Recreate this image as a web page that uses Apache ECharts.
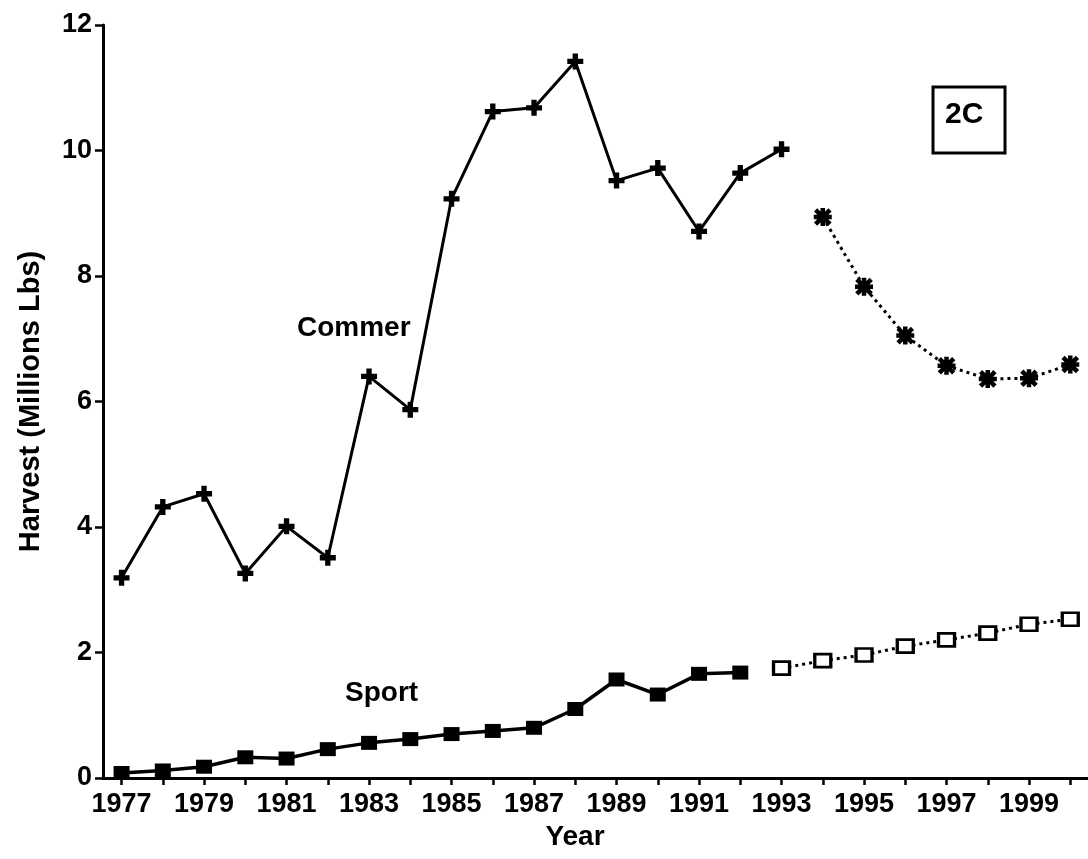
<!DOCTYPE html>
<html>
<head>
<meta charset="utf-8">
<title>Harvest 2C</title>
<script src="https://cdn.jsdelivr.net/npm/echarts@6/dist/echarts.min.js"></script>
<style>
  html, body { margin: 0; padding: 0; background: #fff; }
  #chart { width: 1088px; height: 859px; }
</style>
</head>
<body>
<div id="chart"></div>
<script>
// data
const commerYears = [1977, 1978, 1979, 1980, 1981, 1982, 1983, 1984, 1985, 1986, 1987, 1988, 1989, 1990, 1991, 1992, 1993]
const commerValues = [3.19, 4.32, 4.53, 3.26, 4.01, 3.51, 6.40, 5.87, 9.23, 10.62, 10.68, 11.42, 9.52, 9.72, 8.71, 9.64, 10.02]
const commerProjYears = [1994, 1995, 1996, 1997, 1998, 1999, 2000]
const commerProjValues = [8.94, 7.83, 7.05, 6.57, 6.36, 6.37, 6.59]

const sportYears = [1977, 1978, 1979, 1980, 1981, 1982, 1983, 1984, 1985, 1986, 1987, 1988, 1989, 1990, 1991, 1992]
const sportValues = [0.08, 0.12, 0.18, 0.33, 0.31, 0.46, 0.56, 0.62, 0.70, 0.75, 0.80, 1.10, 1.57, 1.33, 1.66, 1.68]
const sportProjYears = [1993, 1994, 1995, 1996, 1997, 1998, 1999, 2000]
const sportProjValues = [1.75, 1.87, 1.96, 2.10, 2.20, 2.31, 2.45, 2.53]

const tickYears = [1977, 1978, 1979, 1980, 1981, 1982, 1983, 1984, 1985, 1986, 1987, 1988, 1989, 1990, 1991, 1992, 1993, 1994, 1995, 1996, 1997, 1998, 1999, 2000]
const labelYears = [1977, 1979, 1981, 1983, 1985, 1987, 1989, 1991, 1993, 1995, 1997, 1999]

const FONT = 'Liberation Sans, Arial, sans-serif'
const INK = '#000'

// marker shapes (all subpaths wound the same way so overlaps stay filled)
const plusPath = 'path://M6,0 L12,0 L12,6 L18,6 L18,12 L12,12 L12,18 L6,18 L6,12 L0,12 L0,6 L6,6 Z'
const starPath = 'path://M7.5,0 L12.5,0 L12.5,20 L7.5,20 Z M0,7.5 L20,7.5 L20,12.5 L0,12.5 Z ' +
  'M3.8,0.2 L19.8,16.2 L16.2,19.8 L0.2,3.8 Z M16.2,0.2 L19.8,3.8 L3.8,19.8 L0.2,16.2 Z'

function pairs (xs, ys) {
  return xs.map((x, i) => [x, ys[i]])
}

const chart = echarts.init(document.getElementById('chart'), null, { renderer: 'canvas' })

const option = {
  backgroundColor: '#fff',
  animation: false,
  grid: {
    left: 103,
    right: 0,
    top: 25,
    bottom: 81
  },
  xAxis: [{
    type: 'value',
    min: 1976.55,
    max: 2000.43,
    name: 'Year',
    nameLocation: 'middle',
    nameGap: 40,
    nameTextStyle: {
      color: INK,
      fontFamily: FONT,
      fontSize: 28,
      fontWeight: 'bold',
      padding: [0, 41, 0, 0]
    },
    axisLine: { show: true, onZero: false, lineStyle: { color: INK, width: 3 } },
    axisTick: {
      show: true,
      inside: false,
      length: 7,
      customValues: tickYears,
      lineStyle: { color: INK, width: 2.5 }
    },
    axisLabel: {
      show: true,
      customValues: labelYears,
      margin: 13,
      color: INK,
      fontFamily: FONT,
      fontSize: 27,
      fontWeight: 'bold',
      formatter: v => String(v)
    },
    splitLine: { show: false }
  }, {
    // top frame line
    type: 'value',
    position: 'top',
    min: 1976.55,
    max: 2000.43,
    axisLine: { show: true, lineStyle: { color: INK, width: 3 } },
    axisTick: { show: false },
    axisLabel: { show: false },
    splitLine: { show: false }
  }],
  yAxis: {
    type: 'value',
    min: 0,
    max: 12,
    interval: 2,
    name: 'Harvest (Millions Lbs)',
    nameLocation: 'middle',
    nameGap: 58,
    nameTextStyle: {
      color: INK,
      fontFamily: FONT,
      fontSize: 29,
      fontWeight: 'bold'
    },
    axisLine: { show: true, lineStyle: { color: INK, width: 3 } },
    axisTick: { show: true, inside: false, length: 8, lineStyle: { color: INK, width: 2.5 } },
    axisLabel: {
      margin: 11,
      color: INK,
      fontFamily: FONT,
      fontSize: 27,
      fontWeight: 'bold'
    },
    splitLine: { show: false }
  },
  series: [
    {
      name: 'Commer',
      type: 'line',
      data: pairs(commerYears, commerValues),
      symbol: plusPath,
      symbolSize: 16,
      itemStyle: { color: INK },
      lineStyle: { color: INK, width: 3 },
      z: 3
    },
    {
      name: 'Commer (proj)',
      type: 'line',
      data: pairs(commerProjYears, commerProjValues),
      symbol: starPath,
      symbolSize: 18,
      itemStyle: { color: INK },
      lineStyle: { color: INK, width: 3, type: [3, 4] },
      z: 3
    },
    {
      name: 'Sport',
      type: 'line',
      data: pairs(sportYears, sportValues),
      symbol: 'rect',
      symbolSize: [16, 14],
      itemStyle: { color: INK },
      lineStyle: { color: INK, width: 3.5 },
      z: 3
    },
    {
      name: 'Sport (proj)',
      type: 'line',
      data: pairs(sportProjYears, sportProjValues),
      symbol: 'rect',
      symbolSize: [16, 13],
      itemStyle: { color: '#fff', borderColor: INK, borderWidth: 3 },
      lineStyle: { color: INK, width: 3, type: [3, 4] },
      z: 3
    }
  ],
  graphic: [
    {
      type: 'text',
      left: 297,
      top: 314,
      style: { text: 'Commer', fill: INK, font: 'bold 28px ' + FONT }
    },
    {
      type: 'text',
      left: 345,
      top: 679,
      style: { text: 'Sport', fill: INK, font: 'bold 28px ' + FONT }
    },
    {
      type: 'rect',
      shape: { x: 933, y: 87, width: 72, height: 66 },
      style: { fill: '#fff', stroke: INK, lineWidth: 3 }
    },
    {
      type: 'text',
      left: 945,
      top: 100,
      style: { text: '2C', fill: INK, font: 'bold 30px ' + FONT }
    }
  ]
}

chart.setOption(option)
</script>
</body>
</html>
